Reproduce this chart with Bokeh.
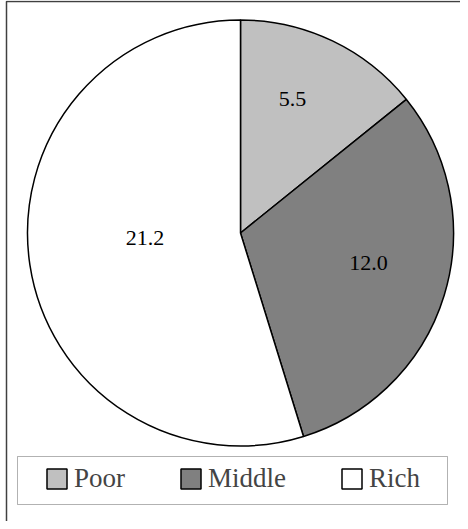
import numpy as np
from bokeh.plotting import figure
from bokeh.models import ColumnDataSource, Range1d, Legend, LegendItem, BoxAnnotation
from bokeh.core.properties import value
from bokeh.embed import file_html
from bokeh.resources import INLINE

# ---- data ----
categories = ["Poor", "Middle", "Rich"]
values = [5.5, 12.0, 21.2]
labels = ["5.5", "12.0", "21.2"]
colors = ["#C0C0C0", "#808080", "#FFFFFF"]

# ---- layout/style ----
W, H = 460, 521
cx, cy, R = 240, 288.5, 213
label_frac = [0.675, 0.617, 0.449]
label_shift_deg = [4.4, 4.0, -5.9]
FONT = "'Liberation Serif', 'Times New Roman', serif"

vals = np.array(values)
frac = vals / vals.sum()
ang = 2 * np.pi * frac
start_top = np.pi / 2
ends = start_top - np.concatenate([[0], np.cumsum(ang)[:-1]])
starts = ends - ang
mids = (starts + ends) / 2 + np.radians(label_shift_deg)

p = figure(width=W, height=H, output_backend="svg", toolbar_location=None,
           x_range=Range1d(0, W), y_range=Range1d(0, H),
           min_border=0, min_border_left=0, min_border_right=0,
           min_border_top=0, min_border_bottom=0)
p.axis.visible = False
p.grid.visible = False
p.outline_line_color = None
p.background_fill_color = "white"
p.border_fill_color = "white"

# chart border (only left and top visible in the window)
p.line(x=[6, 6, 480], y=[-20, 520, 520], line_color="#404040", line_width=1.5)

src = ColumnDataSource(dict(cat=categories, start=starts, end=ends, color=colors))
r = p.wedge(x=cx, y=cy, radius=R, radius_units="screen",
            start_angle="start", end_angle="end",
            fill_color="color", line_color="black", line_width=1.5, source=src)

lx = cx + np.array(label_frac) * R * np.cos(mids)
ly = cy + np.array(label_frac) * R * np.sin(mids)
p.text(x=lx, y=ly, text=labels, text_font=value(FONT), text_font_size="22px",
       text_align="center", text_baseline="middle", text_color="black")

# legend box
box = BoxAnnotation(left=17, right=447, bottom=17, top=65, fill_color="white",
                    fill_alpha=1, line_color="black", line_width=1, level="underlay")
p.add_layout(box)

items = [LegendItem(label=c, renderers=[r], index=i) for i, c in enumerate(categories)]
legend = Legend(items=items, orientation="horizontal", location=(44, 27),
                border_line_color=None, background_fill_alpha=0,
                label_text_font=FONT, label_text_font_size="27px",
                glyph_width=25, glyph_height=25, label_standoff=5,
                spacing=53, padding=0, margin=0)
p.add_layout(legend, "center")

open("out.html", "w").write(file_html(p, INLINE))
